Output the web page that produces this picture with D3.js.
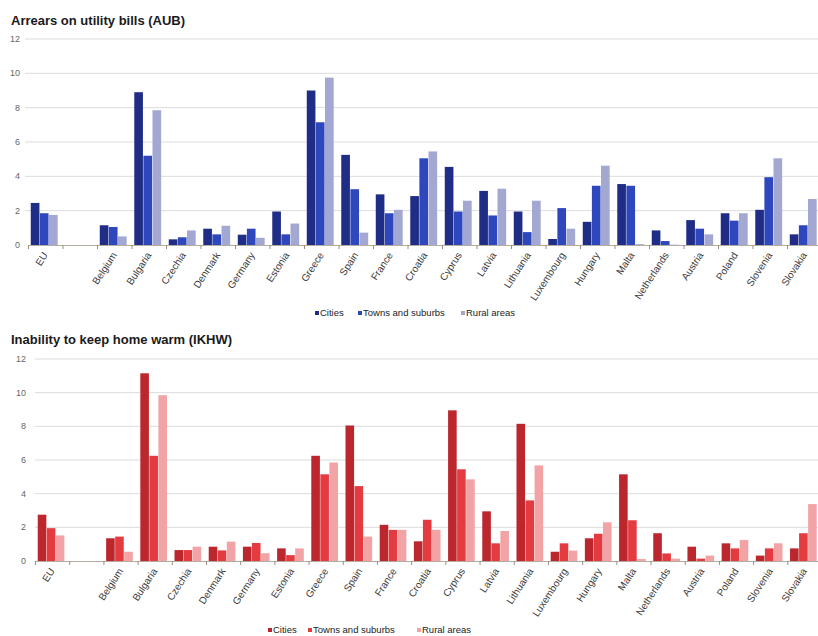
<!DOCTYPE html>
<html>
<head>
<meta charset="utf-8">
<script src="https://cdn.jsdelivr.net/npm/d3@7"></script>
<style>
  body { margin: 0; background: #fff; }
  svg { display: block; font-family: "Liberation Sans", Arial, sans-serif; }
  .grid line { stroke: #dcdcdc; }
  .title { font-weight: bold; font-size: 13px; fill: #1a1a1a; }
  .ytick { font-size: 9px; fill: #666; }
  .xlab { font-size: 10px; fill: #3a3a3a; }
  .legend text { font-size: 9.5px; fill: #222; }
</style>
</head>
<body>
<div id="chart"></div>
<script>
// Categories (empty slot after EU is a spacer)
const countries = ['EU', '', 'Belgium', 'Bulgaria', 'Czechia', 'Denmark', 'Germany', 'Estonia',
  'Greece', 'Spain', 'France', 'Croatia', 'Cyprus', 'Latvia', 'Lithuania', 'Luxembourg',
  'Hungary', 'Malta', 'Netherlands', 'Austria', 'Poland', 'Slovenia', 'Slovakia'];
const seriesNames = ['Cities', 'Towns and suburbs', 'Rural areas'];
const yTicks = [0, 2, 4, 6, 8, 10, 12];

// Arrears on utility bills (AUB), %
const aubCities = [2.45, null, 1.15, 8.9, 0.33, 0.95, 0.6, 1.95, 9.0, 5.25, 2.95, 2.85, 4.55, 3.15, 1.95, 0.35, 1.35, 3.55, 0.85, 1.45, 1.85, 2.05, 0.62];
const aubTowns  = [1.85, null, 1.05, 5.2, 0.45, 0.62, 0.95, 0.62, 7.15, 3.25, 1.85, 5.05, 1.95, 1.72, 0.75, 2.15, 3.45, 3.45, 0.23, 0.95, 1.42, 3.95, 1.15];
const aubRural  = [1.75, null, 0.5, 7.85, 0.85, 1.12, 0.42, 1.25, 9.75, 0.72, 2.05, 5.45, 2.58, 3.28, 2.58, 0.95, 4.62, 0.05, 0.02, 0.62, 1.85, 5.05, 2.68];

// Inability to keep home warm (IKHW), %
const ikhwCities = [2.75, null, 1.35, 11.15, 0.65, 0.85, 0.85, 0.75, 6.25, 8.05, 2.15, 1.17, 8.95, 2.95, 8.15, 0.55, 1.35, 5.15, 1.65, 0.85, 1.05, 0.32, 0.75];
const ikhwTowns  = [1.95, null, 1.45, 6.25, 0.65, 0.63, 1.07, 0.35, 5.15, 4.45, 1.85, 2.45, 5.45, 1.05, 3.6, 1.05, 1.62, 2.42, 0.45, 0.14, 0.75, 0.75, 1.65];
const ikhwRural  = [1.52, null, 0.55, 9.85, 0.85, 1.15, 0.46, 0.75, 5.85, 1.45, 1.85, 1.85, 4.85, 1.78, 5.68, 0.62, 2.3, 0.12, 0.14, 0.32, 1.25, 1.05, 3.38];

const W = 818, H = 636;
const svg = d3.select('#chart').append('svg')
  .attr('width', W)
  .attr('height', H);

function drawPanel(opts) {
  const g = svg.append('g');

  // Title
  g.append('text')
    .attr('class', 'title')
    .attr('x', 11)
    .attr('y', opts.titleY)
    .text(opts.title);

  const x0 = d3.scaleBand()
    .domain(countries)
    .range([opts.left, opts.right]);

  const bw = x0.bandwidth();
  const x1 = d3.scaleBand()
    .domain(seriesNames)
    .range([bw * 0.08, bw * 0.86])
    .paddingInner(0.05);

  const y = d3.scaleLinear()
    .domain([0, 12])
    .range([opts.bottom, opts.top]);

  // Grid lines
  g.append('g')
    .attr('class', 'grid')
    .selectAll('line')
    .data(yTicks.filter(t => t > 0))
    .enter().append('line')
    .attr('x1', opts.gridLeft)
    .attr('x2', W)
    .attr('y1', d => y(d))
    .attr('y2', d => y(d));

  // Y tick labels
  g.append('g')
    .selectAll('text')
    .data(yTicks)
    .enter().append('text')
    .attr('class', 'ytick')
    .attr('x', opts.yLabelX)
    .attr('y', d => y(d))
    .attr('dy', '0.35em')
    .attr('text-anchor', 'end')
    .text(d => d);

  // Bars
  const rows = countries.map((c, i) => ({
    country: c,
    values: seriesNames.map((s, j) => ({ series: s, value: opts.values[j][i] }))
  }));

  g.append('g')
    .selectAll('g')
    .data(rows)
    .enter().append('g')
    .attr('transform', d => `translate(${x0(d.country)},0)`)
    .selectAll('rect')
    .data(d => d.values.filter(v => v.value != null))
    .enter().append('rect')
    .attr('x', d => x1(d.series))
    .attr('width', x1.bandwidth())
    .attr('y', d => y(d.value))
    .attr('height', d => y(0) - y(d.value))
    .attr('fill', d => opts.colors[seriesNames.indexOf(d.series)]);

  // X axis line with boundary ticks
  const axis = g.append('g');
  axis.append('line')
    .attr('x1', opts.left)
    .attr('x2', W)
    .attr('y1', y(0) + 0.5)
    .attr('y2', y(0) + 0.5)
    .attr('stroke', '#b5aca0');
  axis.selectAll('.tk')
    .data(countries)
    .enter().append('line')
    .attr('class', 'tk')
    .attr('x1', d => x0(d) + 0.5)
    .attr('x2', d => x0(d) + 0.5)
    .attr('y1', y(0))
    .attr('y2', y(0) + 4)
    .attr('stroke', '#9a8f80');

  // Rotated category labels
  axis.selectAll('.xlab')
    .data(countries.filter(c => c))
    .enter().append('text')
    .attr('class', 'xlab')
    .attr('text-anchor', 'end')
    .attr('transform', d => `translate(${x0(d) + bw / 2 + 3},${y(0) + 10}) rotate(-57)`)
    .text(d => d);

  // Legend
  const legend = g.append('g').attr('class', 'legend');
  opts.legendX.forEach((lx, i) => {
    legend.append('rect')
      .attr('x', lx)
      .attr('y', opts.legendY - 4)
      .attr('width', 4)
      .attr('height', 4)
      .attr('fill', opts.colors[i]);
    legend.append('text')
      .attr('x', lx + 5)
      .attr('y', opts.legendY)
      .attr('dy', '0.1em')
      .text(seriesNames[i]);
  });
}

drawPanel({
  title: 'Arrears on utility bills (AUB)',
  titleY: 25,
  top: 39, bottom: 245,
  left: 28, right: 821.5,
  gridLeft: 25,
  yLabelX: 20,
  values: [aubCities, aubTowns, aubRural],
  colors: ['#1f2d86', '#2e47bd', '#a3a8d3'],
  legendY: 315,
  legendX: [315, 358, 461]
});

drawPanel({
  title: 'Inability to keep home warm (IKHW)',
  titleY: 344,
  top: 359, bottom: 561,
  left: 35, right: 821.5,
  gridLeft: 35,
  yLabelX: 26,
  values: [ikhwCities, ikhwTowns, ikhwRural],
  colors: ['#bb272d', '#e33b40', '#f2a3a5'],
  legendY: 632,
  legendX: [268, 308, 417]
});
</script>
</body>
</html>
